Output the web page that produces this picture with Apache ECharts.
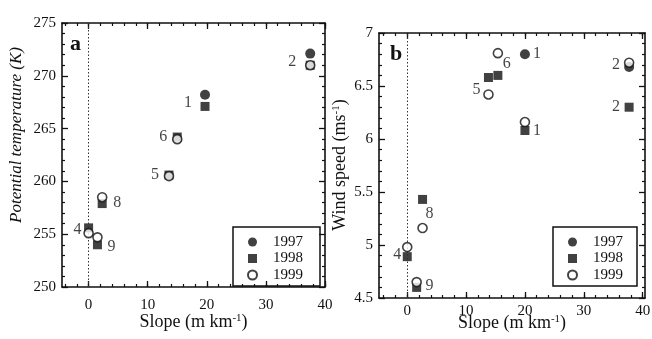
<!DOCTYPE html>
<html>
<head>
<meta charset="utf-8">
<script src="https://cdn.jsdelivr.net/npm/echarts@6/dist/echarts.min.js"></script>
<style>html,body{margin:0;padding:0;background:#fff;}#c{width:652px;height:339px;}</style>
</head>
<body>
<div id="c"></div>
<script>
// ---------- data ----------
const stations = ['1', '2', '4', '5', '6', '8', '9'];
const years = ['1997', '1998', '1999'];
// panel a: slope (m/km) and potential temperature (K)
const slopeA = [19.7, 37.5, 0, 13.6, 15.0, 2.3, 1.5];
const theta1997 = [268.2, 272.1, null, null, null, null, null];
const theta1998 = [267.1, 271.0, 255.6, 260.6, 264.2, 257.9, 254.0];
const theta1999 = [null, 271.0, 255.1, 260.5, 264.0, 258.5, 254.7];
// panel b: slope (m/km) and wind speed (m/s)
const slopeB = [20.0, 37.7, 0, 13.8, 15.4, 2.6, 1.6];
const wind1997 = [6.80, 6.68, null, null, null, null, null];
const wind1998 = [6.08, 6.30, 4.89, 6.58, 6.60, 5.43, 4.60];
const wind1999 = [6.16, 6.72, 4.98, 6.42, 6.81, 5.16, 4.65];
// axis ticks
const xLabelTicks = [0, 10, 20, 30, 40];
const xMinorTicks = [-4, -2, 0, 2, 4, 6, 8, 10, 12, 14, 16, 18, 20, 22, 24, 26, 28, 30, 32, 34, 36, 38, 40];

// ---------- label placement (styling) ----------
const labelsA = [
  {st: 0, yr: 1, dx: -17, dy: -4},
  {st: 1, yr: 1, dx: -18, dy: -3},
  {st: 4, yr: 1, dx: -14, dy: 0},
  {st: 3, yr: 1, dx: -14, dy: 0},
  {st: 5, yr: 1, dx: 15, dy: -1},
  {st: 2, yr: 1, dx: -11, dy: 2},
  {st: 6, yr: 1, dx: 14, dy: 2}
];
const labelsB = [
  {st: 0, yr: 0, dx: 12, dy: 0},
  {st: 0, yr: 1, dx: 12, dy: 0},
  {st: 4, yr: 2, dx: 9, dy: 11},
  {st: 3, yr: 2, dx: -12, dy: -5},
  {st: 1, yr: 0, dx: -13, dy: -2},
  {st: 1, yr: 1, dx: -13, dy: 0},
  {st: 5, yr: 1, dx: 7, dy: 14},
  {st: 2, yr: 1, dx: -10, dy: -2},
  {st: 6, yr: 1, dx: 13, dy: -2}
];

const FONT = 'Liberation Serif';
const BLACK = '#111';
const valsA = [theta1997, theta1998, theta1999];
const valsB = [wind1997, wind1998, wind1999];

function pts(xs, ys) {
  const out = [];
  xs.forEach((x, i) => { if (ys[i] != null) out.push([x, ys[i]]); });
  return out;
}

const symbolDefs = [
  {symbol: 'circle', size: 10, itemStyle: {color: BLACK}},
  {symbol: 'rect', size: 9, itemStyle: {color: BLACK}},
  {symbol: 'circle', size: 9, itemStyle: {color: '#fff', borderColor: BLACK, borderWidth: 1.6}}
];

function xAxes(gridIndex, min, max, nameGap, labelMargin) {
  const line = {show: true, onZero: false, lineStyle: {color: BLACK, width: 1.6}};
  const noLine = {show: false, onZero: false};
  const base = {type: 'value', gridIndex, min, max, splitLine: {show: false}};
  return [
    Object.assign({}, base, {
      position: 'bottom',
      axisLine: line,
      axisTick: {show: true, inside: true, length: 6, customValues: xLabelTicks, lineStyle: {color: BLACK, width: 1.3}},
      axisLabel: {show: true, customValues: xLabelTicks, margin: labelMargin, color: BLACK, fontFamily: FONT, fontSize: 15},
      name: '{n|Slope (m km}{s|-1}{n|)}',
      nameLocation: 'middle',
      nameGap: nameGap,
      nameMoveOverlap: false,
      nameTextStyle: {
        rich: {
          n: {fontFamily: FONT, fontSize: 18, color: BLACK},
          s: {fontFamily: FONT, fontSize: 11, color: BLACK, padding: [0, 0, 8, 0]}
        }
      }
    }),
    Object.assign({}, base, {
      position: 'bottom', axisLine: noLine,
      axisTick: {show: true, inside: true, length: 3, customValues: xMinorTicks, lineStyle: {color: BLACK, width: 1.2}},
      axisLabel: {show: false}
    }),
    Object.assign({}, base, {
      position: 'top', axisLine: line,
      axisTick: {show: true, inside: true, length: 6, customValues: xLabelTicks, lineStyle: {color: BLACK, width: 1.3}},
      axisLabel: {show: false}
    }),
    Object.assign({}, base, {
      position: 'top', axisLine: noLine,
      axisTick: {show: true, inside: true, length: 3, customValues: xMinorTicks, lineStyle: {color: BLACK, width: 1.2}},
      axisLabel: {show: false}
    })
  ];
}

function yAxes(gridIndex, min, max, interval) {
  const line = {show: true, onZero: false, lineStyle: {color: BLACK, width: 1.6}};
  const base = {
    type: 'value', gridIndex, min, max, interval, splitLine: {show: false},
    axisLine: line,
    axisTick: {show: true, inside: true, length: 6, lineStyle: {color: BLACK, width: 1.3}},
    minorTick: {show: true, splitNumber: 5, length: 3, lineStyle: {color: BLACK, width: 1.2}}
  };
  return [
    Object.assign({}, base, {position: 'left',
      axisLabel: {show: true, margin: 6, color: BLACK, fontFamily: FONT, fontSize: 15}}),
    Object.assign({}, base, {position: 'right', axisLabel: {show: false}})
  ];
}

function panelSeries(xs, vals, labels, xIdx, yIdx, tag) {
  const list = years.map((yr, k) => {
    const s = {
      name: yr, type: 'scatter', xAxisIndex: xIdx, yAxisIndex: yIdx,
      symbol: symbolDefs[k].symbol, symbolSize: symbolDefs[k].size,
      itemStyle: symbolDefs[k].itemStyle,
      data: pts(xs, vals[k]), z: 3 + k, silent: true
    };
    if (k === 0) {
      s.markLine = {
        silent: true, symbol: 'none', animation: false,
        label: {show: false},
        lineStyle: {type: [1.5, 2], color: '#333', width: 1},
        data: [{xAxis: 0}]
      };
    }
    return s;
  });
  list.push({
    name: 'labels' + tag, type: 'scatter', xAxisIndex: xIdx, yAxisIndex: yIdx,
    symbol: 'circle', symbolSize: 0.1, itemStyle: {color: 'rgba(0,0,0,0)'}, silent: true, z: 10,
    data: labels.map(l => ({
      value: [xs[l.st], vals[l.yr][l.st]],
      label: {show: true, position: [l.dx, l.dy], align: 'center', verticalAlign: 'middle',
        formatter: stations[l.st], color: BLACK, fontFamily: FONT, fontSize: 16}
    }))
  });
  return list;
}

function legend(left, top, padR) {
  return {
    data: years, orient: 'vertical', left, top, selectedMode: false,
    borderColor: BLACK, borderWidth: 1.5, padding: [7, padR, 3, 14],
    itemWidth: 9, itemHeight: 9, itemGap: 0.5,
    textStyle: {fontFamily: FONT, fontSize: 15, color: BLACK, lineHeight: 16, padding: [0, 0, 0, 11]}
  };
}

const chart = echarts.init(document.getElementById('c'), null, {renderer: 'canvas'});
chart.setOption({
  animation: false,
  backgroundColor: '#fff',
  grid: [
    {left: 62, top: 23, width: 263, height: 264, outerBoundsMode: 'none', containLabel: false},
    {left: 379, top: 33, width: 266, height: 265, outerBoundsMode: 'none', containLabel: false}
  ],
  xAxis: [].concat(xAxes(0, -4.5, 40, 26, 11), xAxes(1, -4.8, 40.4, 16, 6)),
  yAxis: [].concat(yAxes(0, 250, 275, 5), yAxes(1, 4.5, 7, 0.5)),
  legend: [legend(233, 227, 17), legend(553, 227, 14)],
  series: [].concat(
    panelSeries(slopeA, valsA, labelsA, 0, 0, 'A'),
    panelSeries(slopeB, valsB, labelsB, 4, 2, 'B')
  ),
  graphic: [
    {type: 'text', left: 70, top: 33, style: {text: 'a', fontFamily: FONT, fontSize: 22, fontWeight: 'bold', fill: BLACK}},
    {type: 'text', left: 390, top: 43, style: {text: 'b', fontFamily: FONT, fontSize: 22, fontWeight: 'bold', fill: BLACK}},
    {type: 'text', x: 17, y: 135, rotation: Math.PI / 2,
      style: {text: 'Potential temperature (K)', fontFamily: FONT, fontSize: 17, fontStyle: 'italic',
        fill: BLACK, align: 'center', verticalAlign: 'middle'}},
    {type: 'text', x: 340, y: 165, rotation: Math.PI / 2,
      style: {text: '{n|Wind speed (ms}{s|-1}{n|)}', align: 'center', verticalAlign: 'middle',
        rich: {
          n: {fontFamily: FONT, fontSize: 18, fill: BLACK, color: BLACK},
          s: {fontFamily: FONT, fontSize: 11, fill: BLACK, color: BLACK, padding: [0, 0, 8, 0]}
        }}}
  ]
});
</script>
</body>
</html>
